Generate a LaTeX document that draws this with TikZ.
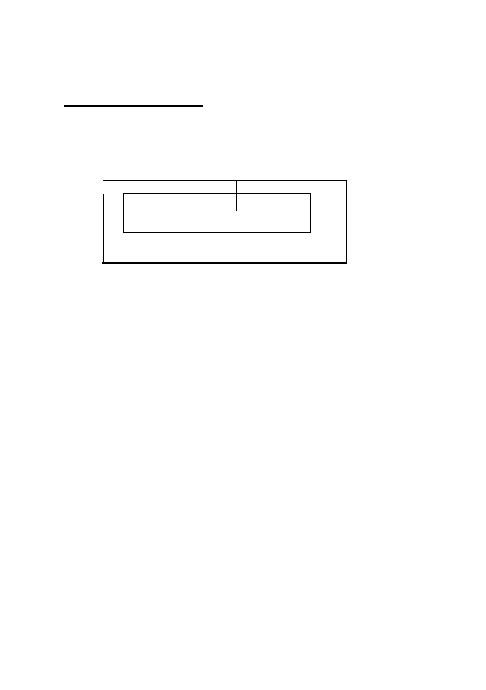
\documentclass[tikz,border=0pt]{standalone}
\begin{document}
\begin{tikzpicture}[x=1pt,y=-1pt,
  thinline/.style={line width=0.9pt,line cap=rect},
  thickline/.style={line width=1.8pt,line cap=rect}]
\useasboundingbox (0,0) rectangle (486,690);
\coordinate (tl) at (103.3,180.3);
\coordinate (tr) at (346.3,180.3);
\coordinate (br) at (346.3,262.8);
\coordinate (bl) at (103.3,262.8);
\coordinate (lgap) at (103.3,194.2);
\coordinate (stemtop) at (236.3,180.3);
\coordinate (stembot) at (236.3,210.6);
% heading rule
\draw[thickline,line cap=butt] (64,105.7) -- (202.8,105.7);
% outer frame
\draw[thinline] (tl) -- (tr) -- (br);
\draw[thickline] (bl) -- (br);
\draw[thinline] (lgap) -- (bl);
% inner box
\node[draw,line width=0.9pt,minimum width=187pt,minimum height=39pt,inner sep=0pt,anchor=north west] (inner) at (123.3,193.3) {};
% stem
\draw[thinline,line cap=butt] (stemtop) -- (stembot);
\end{tikzpicture}
\end{document}
